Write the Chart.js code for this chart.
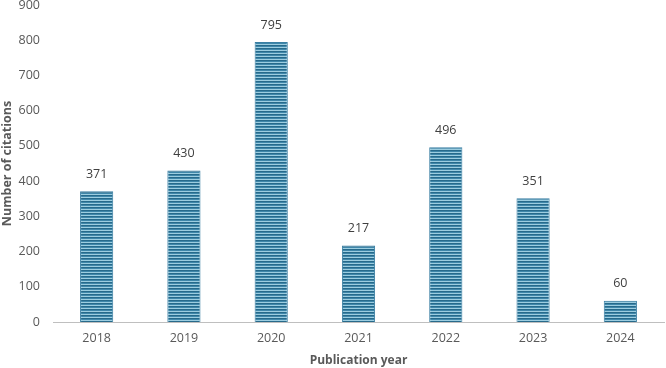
<!DOCTYPE html>
<html><head><meta charset="utf-8">
<script src="https://cdn.jsdelivr.net/npm/chart.js@4.4.1/dist/chart.umd.min.js"></script>
<style>html,body{margin:0;padding:0;background:#fff;}#wrap{width:666px;height:368px;}</style>
</head><body><div id="wrap"><canvas id="c" width="666" height="368"></canvas></div>
<script>
const years = ["2018","2019","2020","2021","2022","2023","2024"];
const citations = [371,430,795,217,496,351,60];
const yTicks = [0,100,200,300,400,500,600,700,800,900];

const pc = document.createElement('canvas');
pc.width = 4; pc.height = 3;
const px = pc.getContext('2d');
px.fillStyle = '#276a8b'; px.fillRect(0,0,4,1);
px.fillStyle = '#3f87aa'; px.fillRect(0,1,4,1);
px.fillStyle = '#9ccde0'; px.fillRect(0,2,4,1);
const ctx = document.getElementById('c').getContext('2d');
const pattern = ctx.createPattern(pc,'repeat');

const FONT = "'Open Sans', 'Liberation Sans', sans-serif";

const labelPlugin = {
  id:'labels',
  afterDatasetsDraw(chart){
    const c = chart.ctx;
    const meta = chart.getDatasetMeta(0);
    c.save();
    c.font = "12.5px " + FONT;
    c.fillStyle = '#404040';
    c.textAlign = 'center';
    c.textBaseline = 'middle';
    meta.data.forEach((el,i)=>{
      c.fillText(String(citations[i]), el.x, el.y - 17);
    });
    c.restore();
  }
};

new Chart(ctx,{
  type:'bar',
  data:{labels:years,datasets:[{data:citations,backgroundColor:pattern,borderColor:'#3a7fa3',borderWidth:{left:1,right:1,top:1,bottom:0},barPercentage:0.76,categoryPercentage:0.5}]},
  options:{
    responsive:false,animation:false,devicePixelRatio:1,
    layout:{padding:{left:0,right:2,top:5,bottom:0}},
    plugins:{legend:{display:false},tooltip:{enabled:false}},
    scales:{
      x:{
        grid:{display:false,drawTicks:false},
        border:{display:true,color:'#bfbfbf',width:1},
        ticks:{color:'#595959',font:{family:FONT,size:12.5},padding:9},
        title:{display:true,text:'Publication year',color:'#595959',font:{family:FONT,size:12,weight:'bold'},padding:{top:6,bottom:0}},
        afterFit(s){s.height=46;s.paddingLeft=0;s.paddingRight=0;}
      },
      y:{
        min:0,max:900,
        afterBuildTicks(s){s.ticks=yTicks.map(v=>({value:v}));},
        grid:{display:false,drawTicks:false},
        border:{display:false},
        ticks:{color:'#595959',font:{family:FONT,size:12.5},padding:13},
        title:{display:true,text:'Number of citations',color:'#595959',font:{family:FONT,size:12.5,weight:'bold'},padding:{top:0,bottom:0}},
        afterFit(s){s.width=53;s.paddingTop=0;s.paddingBottom=0;}
      }
    }
  },
  plugins:[labelPlugin]
});
</script></body></html>
